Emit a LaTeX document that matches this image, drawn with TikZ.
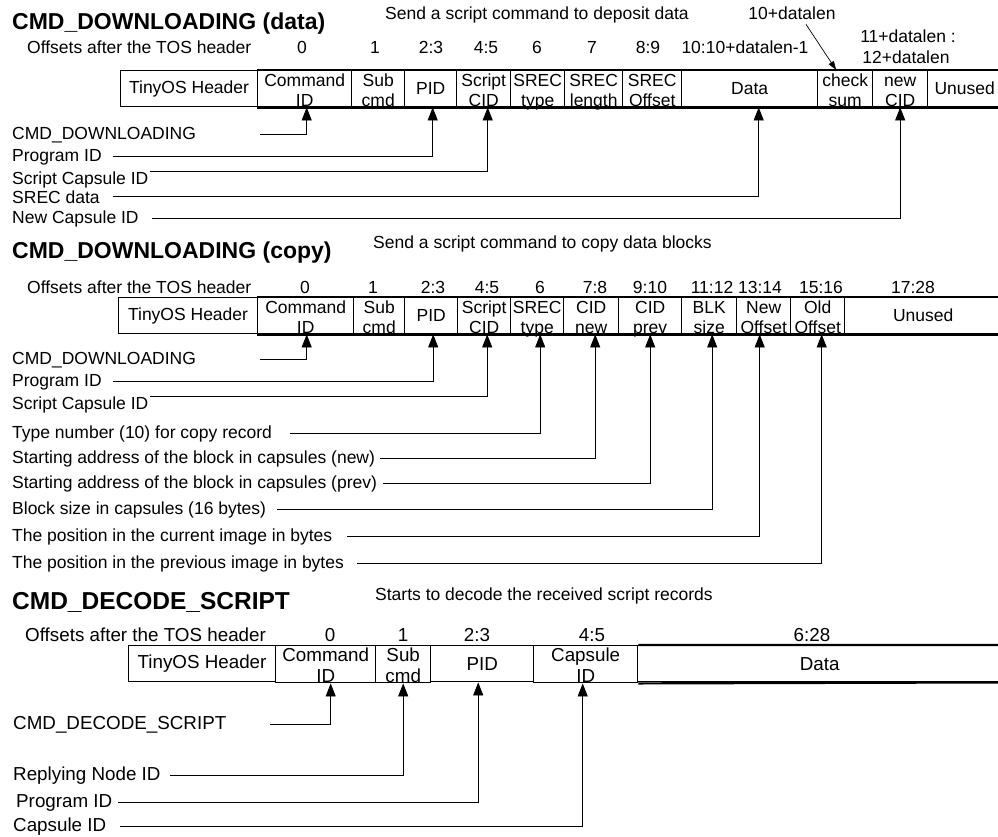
\documentclass[tikz,border=0pt]{standalone}
\usepackage{fontspec}
\setmainfont{Liberation Sans}
\usetikzlibrary{arrows.meta}
\tikzset{
  hdr/.style={draw, line width=1.1pt, inner sep=0pt, minimum height=36pt, anchor=north west},
  fld/.style={draw, line width=1.4pt, inner sep=0pt, minimum height=36pt, anchor=north west, align=center},
  lbl/.style={inner sep=0pt, anchor=base west},
  off/.style={inner sep=0pt, anchor=base},
  ttl/.style={inner sep=0pt, anchor=base west, font=\fontsize{23}{26}\selectfont\bfseries},
  conn/.style={line width=0.8pt, -{Triangle[length=13pt,width=10pt]}},
}
\begin{document}
\begin{tikzpicture}[x=1pt, y=-1pt, font=\fontsize{17.5}{20}\selectfont]
\useasboundingbox (0,0) rectangle (998,836);
% two-line field text, second line sits on the bottom border
\def\two#1#2{\rule{0pt}{16pt}#1\\\smash{#2}}

% ---------------- CMD_DOWNLOADING (data) ----------------
\node[ttl] (t1) at (12,29) {CMD\_DOWNLOADING (data)};
\node[lbl] (s1) at (385,19) {Send a script command to deposit data};
\node[lbl] (ofs1) at (27,53) {Offsets after the TOS header};
\foreach \x/\t [count=\i] in {302/0, 375/1, 431/2:3, 486/4:5, 537/6, 592/7, 648/8:9, 745/10:10+datalen-1}
  \node[off] (a\i) at (\x,53) {\t};
\node[off] (dl10) at (792,19) {10+datalen};
\node[off] (dl11) at (908,42) {11+datalen :};
\node[off] (dl12) at (906,63) {12+datalen};
\node[hdr, minimum width=137] (dtos) at (120,70) {TinyOS Header};
\foreach \n/\a/\b/\txt in {cmd/257/351/{\two{Command}{ID}}, sub/351/404/{\two{Sub}{cmd}},
    pid/404/456/PID, scid/456/510/{\two{Script}{CID}}, stype/510/564/{\two{SREC}{type}},
    slen/564/622/{\two{SREC}{length}}, soff/622/681/{\two{SREC}{Offset}}, data/681/817/Data,
    csum/817/872/{\two{check}{sum}}, ncid/872/927/{\two{new}{CID}}, unused/927/1001/Unused}
  \node[fld, minimum width=\b-\a] (d\n) at (\a,70) {\txt};
\draw[line width=2.2pt] (dcmd.north west) -- (dunused.north east)
  (dcmd.south west) -- (dunused.south east);
\draw[line width=0.7pt, -{Triangle[length=9pt,width=6pt]}] ([xshift=14pt,yshift=-5pt]dl10.south) -- ([xshift=-9pt]dcsum.north);
\foreach \y/\s/\an/\f/\dx/\txt in {139/260/east/dcmd/2/CMD\_DOWNLOADING, 161/113/east/dpid/2/Program ID,
    184/150/north east/dscid/4/Script Capsule ID, 203/113/east/ddata/9/SREC data,
    223/152/east/dncid/0/New Capsule ID} {
  \node[lbl] (l\f) at (12,\y) {\txt};
  \draw[conn] (l\f.\an -| \s,0) -| ([xshift=\dx pt]\f.south);
}

% ---------------- CMD_DOWNLOADING (copy) ----------------
\node[ttl] (t2) at (12,258) {CMD\_DOWNLOADING (copy)};
\node[lbl] (s2) at (373,248) {Send a script command to copy data blocks};
\node[lbl] (ofs2) at (27,293) {Offsets after the TOS header};
\foreach \x/\t [count=\i] in {305/0, 373/1, 433/2:3, 487/4:5, 540/6, 595/7:8, 650/9:10,
    712/11:12, 760/13:14, 821/15:16, 913/17:28}
  \node[off] (b\i) at (\x,293) {\t};
\node[hdr, minimum width=139] (etos) at (118,297) {TinyOS Header};
\foreach \n/\a/\b/\txt in {cmd/257/353/{\two{Command}{ID}}, sub/353/404/{\two{Sub}{cmd}},
    pid/404/457/PID, scid/457/510/{\two{Script}{CID}}, stype/510/563/{\two{SREC}{type}},
    cnew/563/618/{\two{CID}{new}}, cprev/618/681/{\two{CID}{prev}}, blk/681/736/{\two{BLK}{size}},
    noff/736/790/{\two{New}{Offset}}, ooff/790/844/{\two{Old}{Offset}}, unused/844/1001/Unused}
  \node[fld, minimum width=\b-\a] (e\n) at (\a,297) {\txt};
\draw[line width=2.2pt] (ecmd.north west) -- (eunused.north east)
  (ecmd.south west) -- (eunused.south east);
\foreach \y/\s/\an/\f/\dx/\txt in {364/260/east/ecmd/1/CMD\_DOWNLOADING, 386/113/east/epid/2/Program ID,
    409/150/north east/escid/3/Script Capsule ID, 438/290/east/estype/3/Type number (10) for copy record,
    463/380/east/ecnew/4/Starting address of the block in capsules (new),
    488/383/east/ecprev/0/Starting address of the block in capsules (prev),
    514/277/east/eblk/3/Block size in capsules (16 bytes),
    541/347/east/enoff/-4/The position in the current image in bytes,
    568/357/east/eooff/4/The position in the previous image in bytes} {
  \node[lbl] (l\f) at (12,\y) {\txt};
  \draw[conn] (l\f.\an -| \s,0) -| ([xshift=\dx pt]\f.south);
}

% ---------------- CMD_DECODE_SCRIPT ----------------
\begin{scope}[font=\fontsize{18.8}{21}\selectfont]
\node[ttl, font=\fontsize{24.5}{28}\selectfont\bfseries] (t3) at (12,609) {CMD\_DECODE\_SCRIPT};
\node[lbl, font=\fontsize{17.5}{20}\selectfont] (s3) at (375,600) {Starts to decode the received script records};
\node[lbl] (ofs3) at (25,641) {Offsets after the TOS header};
\foreach \x/\t [count=\i] in {330/0, 403/1, 477/2:3, 592/4:5, 812/6:28}
  \node[off] (c\i) at (\x,641) {\t};
\node[hdr, minimum width=147] (ftos) at (128,645) {TinyOS Header};
\foreach \n/\a/\b/\txt in {cmd/275/375/{\two{Command}{ID}}, sub/375/430/{\two{Sub}{cmd}},
    pid/430/533/PID, cap/533/637/{\two{Capsule}{ID}}, data/637/1001/Data}
  \node[fld, minimum width=\b-\a] (f\n) at (\a,645) {\txt};
\draw[line width=2.2pt] (fcap.north east) -- (fdata.north east)
  (fcap.south east) -- (fdata.south east);
\foreach \x/\y/\s/\f/\dx/\txt in {13/729/270/fcmd/5/CMD\_DECODE\_SCRIPT, 13/780/170/fsub/0/Replying Node ID,
    16/807/118/fpid/-4/Program ID, 13/831/120/fcap/-3/Capsule ID} {
  \node[lbl] (l\f) at (\x,\y) {\txt};
  \draw[conn] (l\f.east -| \s,0) -| ([xshift=\dx pt]\f.south);
}
\end{scope}
\end{tikzpicture}
\end{document}
